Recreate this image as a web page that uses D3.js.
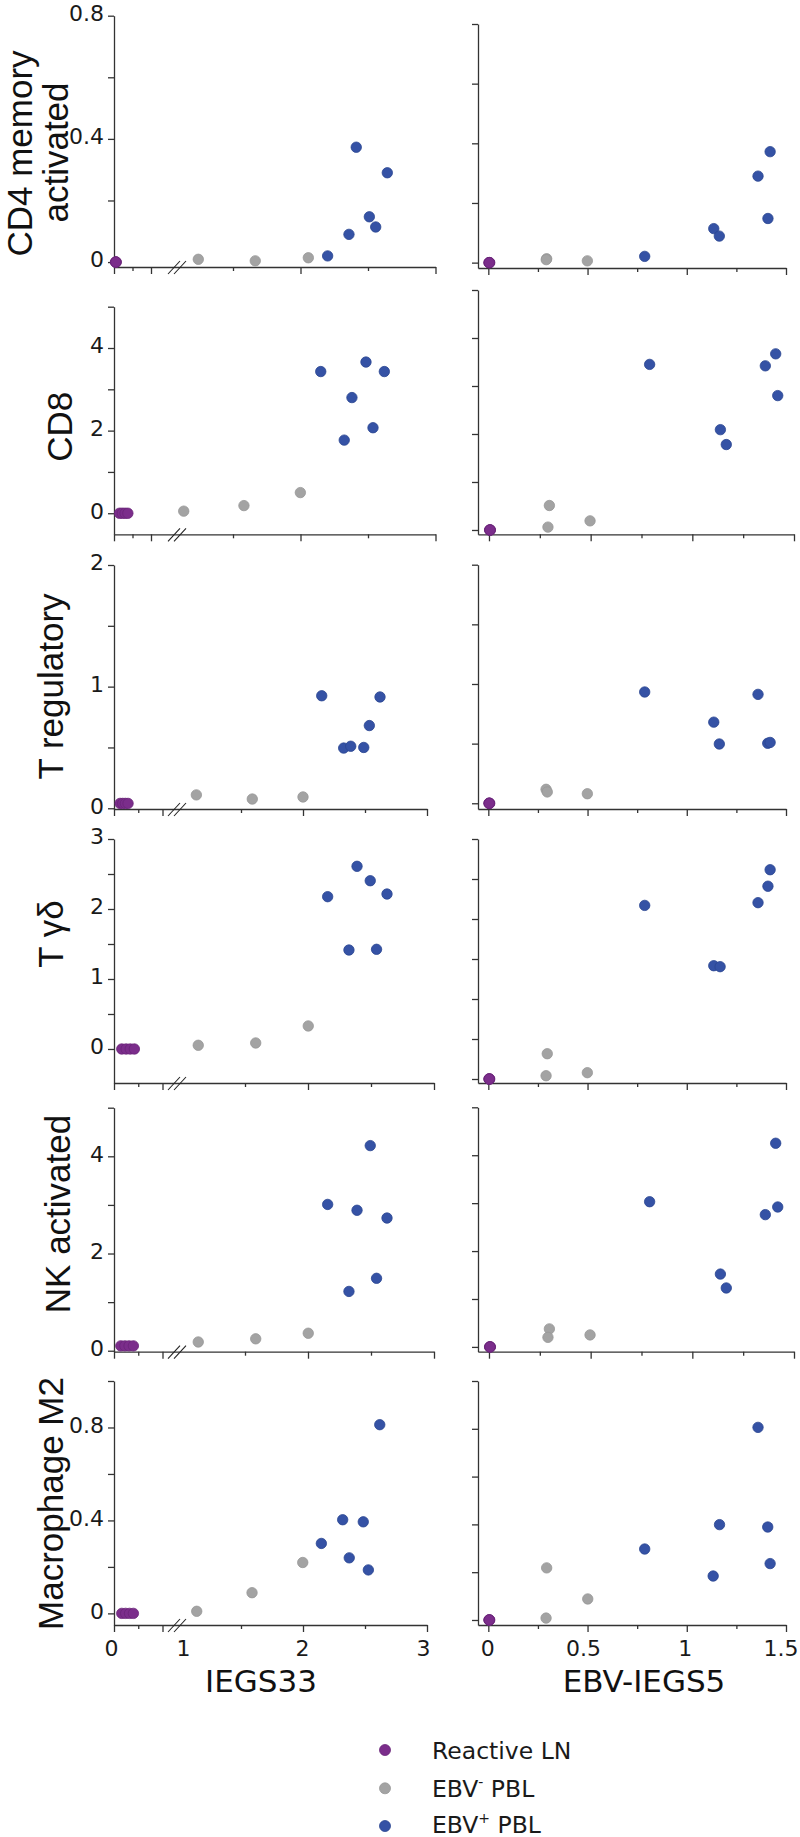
<!DOCTYPE html>
<html>
<head>
<meta charset="utf-8">
<script src="https://cdn.jsdelivr.net/npm/d3@7"></script>
<style>
  body { margin: 0; background: #fff; }
</style>
</head>
<body>
<div id="chart"></div>
<script>
// ---- data ----
const cellTypes = ["CD4 memory activated", "CD8", "T regulatory", "T γδ", "NK activated", "Macrophage M2"];
const groups = ["Reactive LN", "EBV- PBL", "EBV+ PBL"];

// y ticks per cell type (same for both columns), and which of them get a label
const yTickValues = [
  [0, 0.2, 0.4, 0.6, 0.8],
  [0, 1, 2, 3, 4, 5],
  [0, 0.5, 1, 1.5, 2],
  [0, 0.5, 1, 1.5, 2, 2.5, 3],
  [0, 1, 2, 3, 4, 5],
  [0, 0.2, 0.4, 0.6, 0.8, 1]
];
const yTickLabels = [[0, 0.4, 0.8], [0, 2, 4], [0, 1, 2], [0, 1, 2, 3], [0, 2, 4], [0, 0.4, 0.8]];

// x ticks
const iegsTicks = [0, 0.1, 0.2, 1, 1.5, 2, 2.5, 3];
const iegsMinor = [0.1, 1.5, 2.5];
const iegsLabels = [0, 1, 2, 3];
const ebvTicks = [0, 0.25, 0.5, 0.75, 1, 1.25, 1.5];
const ebvMinor = [0.25, 0.75, 1.25];
const ebvLabels = [0, 0.5, 1, 1.5];

// IEGS33 column, one inner array per cell type
const iegsLnX = [
  [0.008, 0.01, 0.012, 0.01],
  [0.03, 0.045, 0.06, 0.075],
  [0.025, 0.036, 0.047, 0.058],
  [0.032, 0.05, 0.067, 0.084],
  [0.028, 0.045, 0.062, 0.08],
  [0.032, 0.048, 0.064, 0.08]
];
const iegsLnY = [
  [0, 0, 0, 0],
  [0, 0, 0, 0],
  [0.04, 0.04, 0.04, 0.04],
  [0, 0, 0, 0],
  [0.1, 0.1, 0.1, 0.1],
  [0, 0, 0, 0]
];
const iegsNegX = [
  [1.243, 1.665, 2.058],
  [1.135, 1.581, 1.999],
  [1.14, 1.591, 2.0],
  [1.129, 1.585, 2.002],
  [1.129, 1.585, 2.002],
  [1.143, 1.589, 1.998]
];
const iegsNegY = [
  [0.009, 0.004, 0.014],
  [0.05, 0.185, 0.5],
  [0.11, 0.076, 0.093],
  [0.053, 0.086, 0.329],
  [0.18, 0.245, 0.36],
  [0.009, 0.089, 0.219]
];
const iegsPosX = [
  [2.201, 2.359, 2.413, 2.51, 2.557, 2.643],
  [2.15, 2.324, 2.381, 2.485, 2.537, 2.621],
  [2.151, 2.328, 2.385, 2.49, 2.535, 2.621],
  [2.156, 2.325, 2.389, 2.494, 2.544, 2.627],
  [2.156, 2.325, 2.389, 2.494, 2.544, 2.627],
  [2.148, 2.32, 2.373, 2.486, 2.527, 2.619]
];
const iegsPosY = [
  [0.02, 0.09, 0.373, 0.147, 0.114, 0.29],
  [3.43, 1.77, 2.8, 3.66, 2.07, 3.43],
  [0.925, 0.495, 0.51, 0.5, 0.68, 0.915],
  [2.176, 1.414, 2.61, 2.404, 1.424, 2.214],
  [3.01, 1.22, 2.89, 4.22, 1.49, 2.73],
  [0.301, 0.403, 0.239, 0.394, 0.187, 0.812]
];

// EBV-IEGS5 column
const ebvLnX = [
  [0.003, 0.005, 0.007, 0.005],
  [0.003, 0.005, 0.007, 0.005],
  [0.003, 0.005, 0.007, 0.005],
  [0.003, 0.005, 0.007, 0.005],
  [0.003, 0.005, 0.007, 0.005],
  [0.003, 0.005, 0.007, 0.005]
];
const ebvLnY = [
  [0, 0, 0, 0],
  [0, 0, 0, 0],
  [0, 0, 0, 0],
  [0, 0, 0, 0],
  [0, 0, 0, 0],
  [0, 0, 0, 0]
];
const ebvNegX = [
  [0.294, 0.292, 0.499],
  [0.297, 0.29, 0.497],
  [0.291, 0.297, 0.499],
  [0.297, 0.291, 0.499],
  [0.297, 0.29, 0.497],
  [0.294, 0.291, 0.501]
];
const ebvNegY = [
  [0.013, 0.01, 0.006],
  [0.51, 0.06, 0.19],
  [0.117, 0.095, 0.08],
  [0.316, 0.041, 0.079],
  [0.376, 0.2, 0.25],
  [0.218, 0.008, 0.088]
];
const ebvPosX = [
  [0.788, 1.136, 1.164, 1.359, 1.409, 1.42],
  [0.79, 1.138, 1.167, 1.359, 1.41, 1.42],
  [0.788, 1.136, 1.164, 1.359, 1.408, 1.42],
  [0.788, 1.136, 1.168, 1.359, 1.409, 1.42],
  [0.79, 1.138, 1.167, 1.359, 1.41, 1.42],
  [0.788, 1.133, 1.165, 1.359, 1.408, 1.42]
];
const ebvPosY = [
  [0.021, 0.114, 0.089, 0.29, 0.148, 0.372],
  [3.45, 2.09, 1.78, 3.42, 3.67, 2.8],
  [0.933, 0.68, 0.497, 0.913, 0.503, 0.51],
  [2.17, 1.416, 1.404, 2.204, 2.41, 2.616],
  [3.03, 1.52, 1.23, 2.76, 4.25, 2.92],
  [0.297, 0.184, 0.399, 0.806, 0.389, 0.236]
];

// ---- layout (pixels) ----
const width = 800, height = 1837;
const colors = ["#7b2d8b", "#a3a3a3", "#3552a5"];
const strokes = ["#6a2478", "#979797", "#2a4590"];

// per row: left y range/domain, left x stops (0, 0.2 | 1, 3), right y range/domain, right x range
const layout = [
  { ly: [267, 15.7], ld: [-0.016, 0.8], lx: [114, 151, 165.5, 435.5], ry: [268, 24], rd: [-0.018, 0.8], rx: [478, 786], rx0: -0.052 },
  { ly: [534.3, 306.7], ld: [-0.51, 5], lx: [114, 151, 165.5, 435.5], ry: [534.3, 290], rd: [-0.09, 5], rx: [478, 794], rx0: -0.054 },
  { ly: [809, 565], ld: [-0.006, 2], lx: [114, 162.5, 179, 427], ry: [809, 564.7], rd: [-0.048, 2], rx: [478, 786], rx0: -0.052 },
  { ly: [1083, 839], ld: [-0.486, 3], lx: [114, 162.5, 182, 434], ry: [1083, 839], rd: [-0.05, 3], rx: [478, 786], rx0: -0.052 },
  { ly: [1351.7, 1107.7], ld: [-0.02, 5], lx: [114, 162.5, 182, 434], ry: [1351.7, 1107.3], rd: [-0.1, 5], rx: [478, 794], rx0: -0.054 },
  { ly: [1625, 1381], ld: [-0.05, 1], lx: [114, 162.5, 179, 427], ry: [1625, 1381], rd: [-0.021, 1], rx: [478, 786], rx0: -0.052 }
];

// small horizontal nudges of the bottom tick labels, as placed in the reference
const iegsLabelShift = { 0: -3, 1: 4, 2: -1, 3: -4 };
const ebvLabelShift = { 0: -1, 0.5: -4.5, 1: -2, 1.5: -5.5 };

// y title placement: baseline x, centre y per line
const titleSpots = [
  [{ t: "CD4 memory", x: 32, y: 153.5 }, { t: "activated", x: 68, y: 152.5 }],
  [{ t: "CD8", x: 72, y: 426.7 }],
  [{ t: "T regulatory", x: 63, y: 686.5 }],
  [{ t: "T γδ", x: 63, y: 934 }],
  [{ t: "NK activated", x: 70, y: 1214 }],
  [{ t: "Macrophage M2", x: 63, y: 1503.5 }]
];

const tickFont = "'DejaVu Sans', Verdana, sans-serif";
const titleFont = "'Liberation Sans', Arial, sans-serif";

const svg = d3.select("#chart").append("svg")
  .attr("width", width).attr("height", height)
  .style("background", "#fff");

function styleAxis(g) {
  g.attr("color", "#333")
    .attr("font-family", tickFont)
    .attr("font-size", 22);
  g.selectAll(".domain, .tick line").attr("stroke-width", 1.3);
  g.selectAll("text").attr("fill", "#1a1a1a");
}

function drawDots(g, xs, ys, x, y, gi) {
  g.selectAll(null)
    .data(xs.map((v, k) => [v, ys[k]]))
    .join("circle")
    .attr("cx", d => x(d[0]))
    .attr("cy", d => y(d[1]))
    .attr("r", 5.2)
    .attr("fill", colors[gi])
    .attr("stroke", strokes[gi])
    .attr("stroke-width", 0.8);
}

cellTypes.forEach((name, i) => {
  const L = layout[i];
  const last = i === cellTypes.length - 1;

  // ---------- IEGS33 column ----------
  const xl = d3.scaleLinear().domain([0, 0.2, 1, 3]).range(L.lx);
  const yl = d3.scaleLinear().domain(L.ld).range(L.ly);

  const gxl = svg.append("g")
    .attr("transform", `translate(0,${L.ly[0]})`)
    .call(d3.axisBottom(xl).tickValues(iegsTicks).tickSize(7).tickSizeOuter(0).tickPadding(8)
      .tickFormat(d => last && iegsLabels.includes(d) ? String(d) : ""));
  gxl.selectAll(".tick line").attr("y2", d => d === 1 ? 0 : iegsMinor.includes(d) ? 4 : 7);
  gxl.selectAll(".tick text").attr("dx", d => iegsLabelShift[d] || 0);
  styleAxis(gxl);

  // axis break marks
  const bx = 168, by = L.ly[0];
  [0, 6].forEach(off => {
    svg.append("line")
      .attr("x1", bx + off).attr("y1", by + 7)
      .attr("x2", bx + off + 12).attr("y2", by - 6)
      .attr("stroke", "#222").attr("stroke-width", 1.1);
  });

  const gyl = svg.append("g")
    .attr("transform", `translate(${L.lx[0]},0)`)
    .call(d3.axisLeft(yl).tickValues(yTickValues[i]).tickSize(6).tickSizeOuter(0).tickPadding(4)
      .tickFormat(d => yTickLabels[i].includes(d) ? String(d) : ""));
  styleAxis(gyl);
  gyl.selectAll("text").attr("dy", "0.22em");

  const gl = svg.append("g");
  drawDots(gl, iegsLnX[i], iegsLnY[i], xl, yl, 0);
  drawDots(gl, iegsNegX[i], iegsNegY[i], xl, yl, 1);
  drawDots(gl, iegsPosX[i], iegsPosY[i], xl, yl, 2);

  // ---------- EBV-IEGS5 column ----------
  const xr = d3.scaleLinear().domain([L.rx0, 1.5]).range(L.rx);
  const yr = d3.scaleLinear().domain(L.rd).range(L.ry);

  const gxr = svg.append("g")
    .attr("transform", `translate(0,${L.ry[0]})`)
    .call(d3.axisBottom(xr).tickValues(ebvTicks).tickSize(7).tickSizeOuter(0).tickPadding(8)
      .tickFormat(d => last && ebvLabels.includes(d) ? String(d) : ""));
  gxr.selectAll(".tick line").attr("y2", d => ebvMinor.includes(d) ? 4 : 7);
  gxr.selectAll(".tick text").attr("dx", d => ebvLabelShift[d] || 0);
  styleAxis(gxr);

  const gyr = svg.append("g")
    .attr("transform", `translate(${L.rx[0]},0)`)
    .call(d3.axisLeft(yr).tickValues(yTickValues[i]).tickSize(6).tickSizeOuter(0).tickFormat(""));
  styleAxis(gyr);

  const gr = svg.append("g");
  drawDots(gr, ebvLnX[i], ebvLnY[i], xr, yr, 0);
  drawDots(gr, ebvNegX[i], ebvNegY[i], xr, yr, 1);
  drawDots(gr, ebvPosX[i], ebvPosY[i], xr, yr, 2);

  // ---------- y title ----------
  titleSpots[i].forEach(s => {
    svg.append("text")
      .attr("transform", `translate(${s.x},${s.y}) rotate(-90)`)
      .attr("text-anchor", "middle")
      .attr("font-family", titleFont)
      .attr("font-size", 35)
      .attr("fill", "#111")
      .text(s.t);
  });
});

// x titles
[["IEGS33", 261], ["EBV-IEGS5", 644]].forEach(([t, x]) => {
  svg.append("text")
    .attr("x", x).attr("y", 1691.7)
    .attr("text-anchor", "middle")
    .attr("font-family", tickFont)
    .attr("font-size", 31)
    .attr("fill", "#111")
    .text(t);
});

// legend
const legendDotY = [1750, 1788.3, 1826];
const legendBaseY = [1759.3, 1796.7, 1832.5];
const legendParts = [["Reactive LN", null, ""], ["EBV", "-", " PBL"], ["EBV", "+", " PBL"]];
groups.forEach((g, k) => {
  svg.append("circle")
    .attr("cx", 385).attr("cy", legendDotY[k]).attr("r", 5.5)
    .attr("fill", colors[k]).attr("stroke", strokes[k]).attr("stroke-width", 0.8);
  const t = svg.append("text")
    .attr("x", 432).attr("y", legendBaseY[k])
    .attr("font-family", tickFont)
    .attr("font-size", 23.5)
    .attr("fill", "#1a1a1a");
  const p = legendParts[k];
  t.append("tspan").text(p[0]);
  if (p[1]) {
    t.append("tspan").attr("font-size", 14).attr("dy", -10).text(p[1]);
    t.append("tspan").attr("dy", 10).text(p[2]);
  }
});
</script>
</body>
</html>
